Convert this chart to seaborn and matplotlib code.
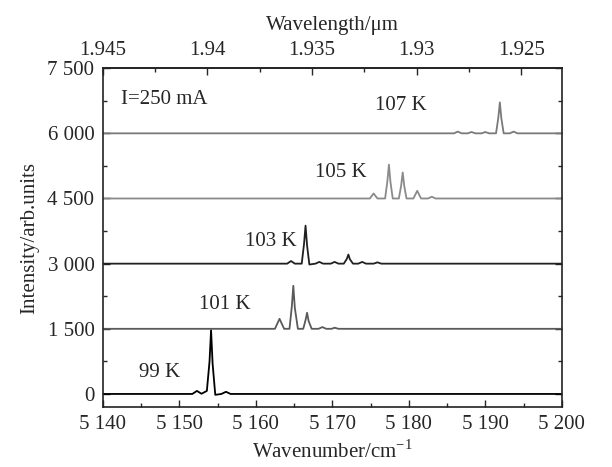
"""Laser emission spectra at several heat-sink temperatures, offset vertically."""

import matplotlib
matplotlib.use("Agg")
import matplotlib.pyplot as plt
from matplotlib.ticker import MultipleLocator, FixedLocator, FuncFormatter
import seaborn as sns

# spectra: wavenumber (cm^-1) and intensity above own baseline
temps = ["99 K", "101 K", "103 K", "105 K", "107 K"]
offsets = [0, 1500, 3000, 4500, 6000]

x_99 = [5140, 5151.7, 5152.3, 5152.9, 5153.6, 5153.95, 5154.15, 5154.35, 5154.7,
        5155.5, 5156.1, 5156.7, 5200]
y_99 = [0, 0, 70, 5, 70, 750, 1470, 700, -20, 0, 50, 0, 0]

x_101 = [5140, 5162.5, 5163.1, 5163.7, 5164.4, 5164.7, 5164.9, 5165.1, 5165.5,
         5166.2, 5166.5, 5166.7, 5166.9, 5167.3, 5168.2, 5168.7, 5169.2, 5169.9,
         5170.3, 5170.8, 5200]
y_101 = [0, 0, 230, 0, 0, 500, 990, 480, 0, 0, 200, 370, 180, 0, 0, 40, 0, 0,
         25, 0, 0]

x_103 = [5140, 5164.1, 5164.6, 5165.1, 5166.0, 5166.3, 5166.5, 5166.7, 5167.0,
         5167.8, 5168.3, 5168.8, 5169.8, 5170.3, 5170.8, 5171.5, 5171.9, 5172.1,
         5172.3, 5172.7, 5173.4, 5173.9, 5174.4, 5175.4, 5175.9, 5176.4, 5200]
y_103 = [0, 0, 60, 0, 0, 450, 875, 420, -20, 0, 40, 0, 0, 40, 0, 0, 110, 210, 100,
         0, 0, 40, 0, 0, 30, 0, 0]

x_105 = [5140, 5174.9, 5175.4, 5175.9, 5176.9, 5177.2, 5177.4, 5177.6, 5177.9,
         5178.7, 5179.0, 5179.2, 5179.4, 5179.7, 5180.6, 5181.1, 5181.6, 5182.5,
         5183.0, 5183.5, 5200]
y_105 = [0, 0, 115, 0, 0, 400, 780, 380, 0, 0, 300, 600, 290, 0, 0, 177, 0, 0, 40,
         0, 0]

x_107 = [5140, 5185.9, 5186.4, 5186.9, 5187.7, 5188.2, 5188.7, 5189.5, 5190.0,
         5190.5, 5191.4, 5191.7, 5191.9, 5192.1, 5192.4, 5193.2, 5193.7, 5194.2, 5200]
y_107 = [0, 0, 40, 0, 0, 30, 0, 0, 30, 0, 0, 360, 713, 340, 0, 0, 40, 0, 0]

spectra_x = [x_99, x_101, x_103, x_105, x_107]
spectra_y = [y_99, y_101, y_103, y_105, y_107]
line_colors = ["#000000", "#5a5a5a", "#202020", "#8a8a8a", "#7a7a7a"]

# label anchors (data coords)
label_x = [5147.4, 5155.9, 5162.0, 5171.1, 5179.0]
label_y = [505, 2070, 3500, 5100, 6650]

current_label = "I=250 mA"

# top axis: wavelength scale as printed (linear across the frame)
lam_left, lam_right = 1.945, 1.92306
wn_left, wn_right = 5140, 5200
lam_major = [1.945, 1.94, 1.935, 1.93, 1.925]
lam_minor = [1.9425, 1.9375, 1.9325, 1.9275]
lam_labels = ["1.945", "1.94", "1.935", "1.93", "1.925"]

sns.set_style("ticks")
plt.rcParams["font.family"] = ["Liberation Serif", "DejaVu Serif"]
plt.rcParams["mathtext.fontset"] = "custom"
plt.rcParams["mathtext.rm"] = "Liberation Serif"
plt.rcParams["xtick.direction"] = "in"
plt.rcParams["ytick.direction"] = "in"

fig, ax = plt.subplots(figsize=(6.12, 4.67), dpi=100)
fig.subplots_adjust(left=0.168, right=0.918, top=0.854, bottom=0.1285)

for xs, ys, off, col in zip(spectra_x, spectra_y, offsets, line_colors):
    sns.lineplot(x=xs, y=[v + off for v in ys], sort=False, color=col,
                 linewidth=1.3, ax=ax)

for name, lx, ly in zip(temps, label_x, label_y):
    ax.text(lx, ly, name, ha="center", va="center", fontsize=15)
ax.text(5142.4, 6785, current_label, ha="left", va="center", fontsize=15)

ax.set_xlim(wn_left, wn_right)
ax.set_ylim(-300, 7500)
ax.xaxis.set_major_locator(MultipleLocator(10))
ax.xaxis.set_minor_locator(MultipleLocator(5))
ax.yaxis.set_major_locator(MultipleLocator(1500))
ax.yaxis.set_minor_locator(MultipleLocator(750))

thousands = FuncFormatter(lambda v, p: f"{int(round(v)):,}".replace(",", " "))
ax.xaxis.set_major_formatter(thousands)
ax.yaxis.set_major_formatter(thousands)

ax.tick_params(axis="both", which="major", length=5, width=1, labelsize=15, pad=6)
ax.tick_params(axis="both", which="minor", length=3, width=1)
ax.tick_params(axis="y", which="both", right=True)
ax.tick_params(axis="x", which="both", top=False)

for sp in ax.spines.values():
    sp.set_linewidth(1.2)
    sp.set_color("#222222")

ax.set_xlabel("Wavenumber/cm$^{-1}$", fontsize=15, labelpad=4)
ax.set_ylabel("Intensity/arb.units", fontsize=15, labelpad=6)

slope = (lam_right - lam_left) / (wn_right - wn_left)
sec = ax.secondary_xaxis(
    "top",
    functions=(lambda x: lam_left + (x - wn_left) * slope,
               lambda l: wn_left + (l - lam_left) / slope),
)
sec.set_xticks(lam_major, lam_labels)
sec.xaxis.set_minor_locator(FixedLocator(lam_minor))
sec.tick_params(which="major", direction="in", length=5, width=1, labelsize=15, pad=6)
sec.tick_params(which="minor", direction="in", length=3, width=1)
sec.spines["top"].set_linewidth(1.2)
sec.set_xlabel("Wavelength/\u03bcm", fontsize=15, labelpad=8)

fig.savefig("out.png", dpi=100)
plt.close(fig)
